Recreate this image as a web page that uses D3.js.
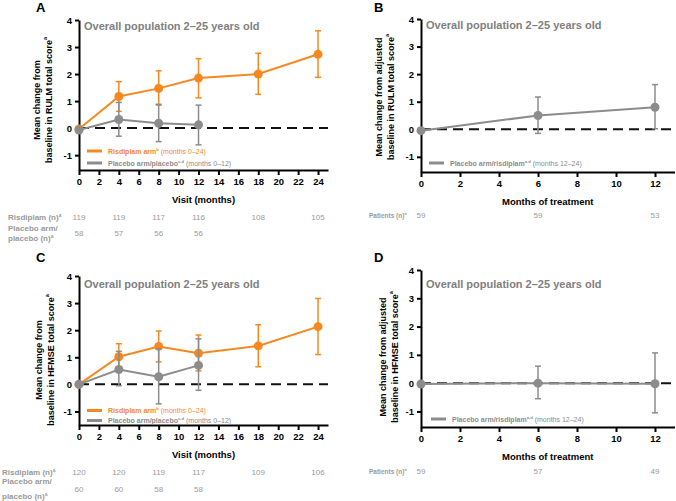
<!DOCTYPE html>
<html>
<head>
<meta charset="utf-8">
<script src="https://cdn.jsdelivr.net/npm/d3@7"></script>
<style>
  body { margin: 0; background: #fff; }
  text { font-family: Arial, "Liberation Sans", sans-serif; }
</style>
</head>
<body>
<div id="chart"></div>
<script>
// values
var visitMonths = [0, 4, 8, 12, 18, 24];
var placeboMonths = [0, 4, 8, 12];
var treatMonths = [0, 6, 12];

// A: RULM
var rulmRisMean = [-0.03, 1.17, 1.47, 1.85, 2.0, 2.73];
var rulmRisLow  = [null, 0.62, 0.85, 1.12, 1.25, 1.88];
var rulmRisHigh = [null, 1.72, 2.12, 2.57, 2.77, 3.6];
var rulmPlaMean = [-0.07, 0.32, 0.18, 0.12];
var rulmPlaLow  = [null, -0.3, -0.5, -0.62];
var rulmPlaHigh = [null, 0.95, 0.88, 0.85];
var rulmRisN = [119, 119, 117, 116, 108, 105];
var rulmPlaN = [58, 57, 56, 56];

// B: RULM, placebo arm switched to risdiplam
var rulmSwMean = [-0.05, 0.5, 0.8];
var rulmSwLow  = [null, -0.15, 0.02];
var rulmSwHigh = [null, 1.17, 1.62];
var rulmSwN = [59, 59, 53];

// C: HFMSE
var hfmseRisMean = [0.0, 1.02, 1.4, 1.15, 1.42, 2.13];
var hfmseRisLow  = [null, 0.52, 0.83, 0.5, 0.65, 1.1];
var hfmseRisHigh = [null, 1.5, 1.97, 1.82, 2.2, 3.17];
var hfmsePlaMean = [0.0, 0.55, 0.28, 0.7];
var hfmsePlaLow  = [null, -0.05, -0.72, -0.22];
var hfmsePlaHigh = [null, 1.22, 1.32, 1.68];
var hfmseRisN = [120, 120, 119, 117, 109, 106];
var hfmsePlaN = [60, 60, 58, 58];

// D: HFMSE, placebo arm switched to risdiplam
var hfmseSwMean = [-0.03, 0.0, -0.02];
var hfmseSwLow  = [null, -0.55, -1.05];
var hfmseSwHigh = [null, 0.6, 1.07];
var hfmseSwN = [59, 57, 49];

var yTicks = [-1, 0, 1, 2, 3, 4];
var visitTicks = d3.range(0, 25, 2);
var treatTicks = d3.range(0, 13, 2);

var orange = "#f5891f";
var grey = "#8c8c8c";

var svg = d3.select("#chart").append("svg")
    .attr("width", 676)
    .attr("height", 501);

function zip(xs, m, lo, hi) {
    return xs.map(function(d, i) { return {x: d, m: m[i], lo: lo[i], hi: hi[i]}; });
}

// text with an optional superscript, then optional normal-weight tail
function supText(sel, main, sup, tail, size) {
    sel.append("tspan").text(main);
    if (sup) {
        sel.append("tspan").attr("font-size", size * 0.6).attr("dy", -size * 0.4).text(sup);
    }
    if (tail) {
        sel.append("tspan").attr("font-weight", "normal").attr("dy", sup ? size * 0.4 : 0).text(tail);
    }
}

function drawPanel(p) {
    var x = d3.scaleLinear().domain(p.xDomain).range(p.xRange);
    var y = d3.scaleLinear().domain(p.yDomain).range(p.yRange);
    var g = svg.append("g");

    // panel letter
    g.append("text").attr("x", p.letterX).attr("y", p.letterY)
        .attr("font-size", 13).attr("font-weight", "bold").text(p.letter);

    // zero line
    g.append("line")
        .attr("x1", x(p.xDomain[0])).attr("x2", x(p.xDomain[1]))
        .attr("y1", y(0)).attr("y2", y(0))
        .attr("stroke", "#111").attr("stroke-width", 2)
        .attr("stroke-dasharray", "10,6");

    // axes
    var xa = g.append("g")
        .attr("transform", "translate(0," + p.yRange[0] + ")")
        .call(d3.axisBottom(x).tickValues(p.xTicks).tickSize(5).tickSizeOuter(0).tickPadding(3)
            .tickFormat(function(d) { return String(d); }));
    var ya = g.append("g")
        .attr("transform", "translate(" + p.xRange[0] + ",0)")
        .call(d3.axisLeft(y).tickValues(yTicks).tickSize(4).tickSizeOuter(0).tickPadding(3)
            .tickFormat(function(d) { return String(d); }));
    [xa, ya].forEach(function(a) {
        a.select(".domain").attr("stroke", "#000").attr("stroke-width", 2);
        a.selectAll(".tick line").attr("stroke", "#000").attr("stroke-width", 2);
        a.selectAll(".tick text").attr("font-size", 9.5).attr("font-weight", "bold")
            .attr("fill", "#000").attr("font-family", "Arial, 'Liberation Sans', sans-serif");
    });

    // axis titles
    g.append("text")
        .attr("x", (p.xRange[0] + p.xRange[1]) / 2).attr("y", p.yRange[0] + 33)
        .attr("text-anchor", "middle").attr("font-size", 9.5).attr("font-weight", "bold")
        .text(p.xTitle);
    p.yTitle.forEach(function(line, i) {
        var t = g.append("text")
            .attr("transform", "translate(" + p.yTitleX[i] + "," + p.yTitleY + ") rotate(-90)")
            .attr("text-anchor", "middle").attr("dominant-baseline", "middle")
            .attr("font-size", 9).attr("font-weight", "bold");
        supText(t, line[0], line[1], null, 9);
    });

    // title
    g.append("text").attr("x", p.xRange[0] + 5).attr("y", p.titleY)
        .attr("font-size", 11).attr("font-weight", "bold").attr("fill", "#808080")
        .text("Overall population 2\u201325 years old");

    // series
    p.series.forEach(function(s) {
        var pts = s.data;
        var line = d3.line().x(function(d) { return x(d.x); }).y(function(d) { return y(d.m); });
        g.append("path").datum(pts).attr("d", line)
            .attr("fill", "none").attr("stroke", s.color).attr("stroke-width", 2);

        var eb = g.append("g").selectAll("g")
            .data(pts.filter(function(d) { return d.lo != null; }))
            .enter().append("g").attr("stroke", s.color).attr("stroke-width", 1.5);
        eb.append("line")
            .attr("x1", function(d) { return x(d.x); }).attr("x2", function(d) { return x(d.x); })
            .attr("y1", function(d) { return y(d.lo); }).attr("y2", function(d) { return y(d.hi); });
        eb.append("line")
            .attr("x1", function(d) { return x(d.x) - 3; }).attr("x2", function(d) { return x(d.x) + 3; })
            .attr("y1", function(d) { return y(d.lo); }).attr("y2", function(d) { return y(d.lo); });
        eb.append("line")
            .attr("x1", function(d) { return x(d.x) - 3; }).attr("x2", function(d) { return x(d.x) + 3; })
            .attr("y1", function(d) { return y(d.hi); }).attr("y2", function(d) { return y(d.hi); });

        g.append("g").selectAll("circle").data(pts).enter().append("circle")
            .attr("cx", function(d) { return x(d.x); })
            .attr("cy", function(d) { return y(d.m); })
            .attr("r", 4.5).attr("fill", s.color);
    });

    // legend
    p.legend.forEach(function(l) {
        g.append("line").attr("x1", l.x).attr("x2", l.x + 15).attr("y1", l.y).attr("y2", l.y)
            .attr("stroke", l.color).attr("stroke-width", 3);
        var t = g.append("text").attr("x", l.x + 21).attr("y", l.y + 2.5)
            .attr("font-size", 7).attr("font-weight", "bold").attr("fill", l.color);
        supText(t, l.label[0], l.label[1], l.label[2], 7);
    });

    // n table
    p.rows.forEach(function(r) {
        r.label.forEach(function(lab, i) {
            var t = g.append("text").attr("x", r.labelX).attr("y", r.labelY[i])
                .attr("font-size", r.labelSize).attr("font-weight", "bold").attr("fill", "#9a9a9a");
            supText(t, lab[0], lab[1], null, r.labelSize);
        });
        g.append("g").selectAll("text").data(r.n).enter().append("text")
            .attr("x", function(d, i) { return x(r.months[i]); })
            .attr("y", r.y)
            .attr("text-anchor", "middle").attr("font-size", 8).attr("fill", "#9a9a9a")
            .text(function(d) { return d; });
    });
}

var panels = [
    {
        letter: "A", letterX: 36, letterY: 12,
        xDomain: [0, 25], xRange: [79, 328], xTicks: visitTicks,
        yDomain: [-1.55, 4], yRange: [170, 20],
        xTitle: "Visit (months)",
        yTitle: [["Mean change from", null], ["baseline in RULM total score", "a"]],
        yTitleX: [38, 50], yTitleY: 100, titleY: 30,
        series: [
            {color: orange, data: zip(visitMonths, rulmRisMean, rulmRisLow, rulmRisHigh)},
            {color: grey, data: zip(placeboMonths, rulmPlaMean, rulmPlaLow, rulmPlaHigh)}
        ],
        legend: [
            {x: 87, y: 151, color: orange, label: ["Risdiplam arm", "b", " (months 0\u201324)"]},
            {x: 87, y: 163, color: grey, label: ["Placebo arm/placebo", "c,d", " (months 0\u201312)"]}
        ],
        rows: [
            {labelX: 8, labelY: [220], label: [["Risdiplam (n)", "a"]], labelSize: 8, months: visitMonths, n: rulmRisN, y: 220},
            {labelX: 8, labelY: [231, 241], label: [["Placebo arm/", null], ["placebo (n)", "a"]], labelSize: 8, months: placeboMonths, n: rulmPlaN, y: 236}
        ]
    },
    {
        letter: "B", letterX: 374, letterY: 12,
        xDomain: [0, 13], xRange: [421, 674.5], xTicks: treatTicks,
        yDomain: [-1.55, 4], yRange: [172, 19],
        xTitle: "Months of treatment",
        yTitle: [["Mean change from adjusted", null], ["baseline in RULM total score", "a"]],
        yTitleX: [380, 392], yTitleY: 97, titleY: 29,
        series: [
            {color: grey, data: zip(treatMonths, rulmSwMean, rulmSwLow, rulmSwHigh)}
        ],
        legend: [
            {x: 429, y: 163, color: grey, label: ["Placebo arm/risdiplam", "a,d", " (months 12\u201324)"]}
        ],
        rows: [
            {labelX: 369, labelY: [218], label: [["Patients (n)", "a"]], labelSize: 6.5, months: treatMonths, n: rulmSwN, y: 218}
        ]
    },
    {
        letter: "C", letterX: 36, letterY: 262,
        xDomain: [0, 25], xRange: [79, 328], xTicks: visitTicks,
        yDomain: [-1.5, 4], yRange: [425, 276],
        xTitle: "Visit (months)",
        yTitle: [["Mean change from", null], ["baseline in HFMSE total score", "a"]],
        yTitleX: [40, 52], yTitleY: 360, titleY: 288,
        series: [
            {color: orange, data: zip(visitMonths, hfmseRisMean, hfmseRisLow, hfmseRisHigh)},
            {color: grey, data: zip(placeboMonths, hfmsePlaMean, hfmsePlaLow, hfmsePlaHigh)}
        ],
        legend: [
            {x: 87, y: 410.5, color: orange, label: ["Risdiplam arm", "b", " (months 0\u201324)"]},
            {x: 87, y: 420.5, color: grey, label: ["Placebo arm/placebo", "c,d", " (months 0\u201312)"]}
        ],
        rows: [
            {labelX: 2, labelY: [475], label: [["Risdiplam  (n)", "a"]], labelSize: 8, months: visitMonths, n: hfmseRisN, y: 475},
            {labelX: 2, labelY: [484, 499], label: [["Placebo arm/", null], ["placebo  (n)", "a"]], labelSize: 8, months: placeboMonths, n: hfmsePlaN, y: 492}
        ]
    },
    {
        letter: "D", letterX: 374, letterY: 262,
        xDomain: [0, 13], xRange: [421, 674.5], xTicks: treatTicks,
        yDomain: [-1.55, 4], yRange: [427, 270],
        xTitle: "Months of treatment",
        yTitle: [["Mean change from adjusted", null], ["baseline in HFMSE total score", "a"]],
        yTitleX: [384, 396], yTitleY: 357, titleY: 288,
        series: [
            {color: grey, data: zip(treatMonths, hfmseSwMean, hfmseSwLow, hfmseSwHigh)}
        ],
        legend: [
            {x: 431, y: 419, color: grey, label: ["Placebo arm/risdiplam", "a,d", " (months 12\u201324)"]}
        ],
        rows: [
            {labelX: 369, labelY: [474], label: [["Patients (n)", "a"]], labelSize: 6.5, months: treatMonths, n: hfmseSwN, y: 474}
        ]
    }
];

panels.forEach(drawPanel);
</script>
</body>
</html>
